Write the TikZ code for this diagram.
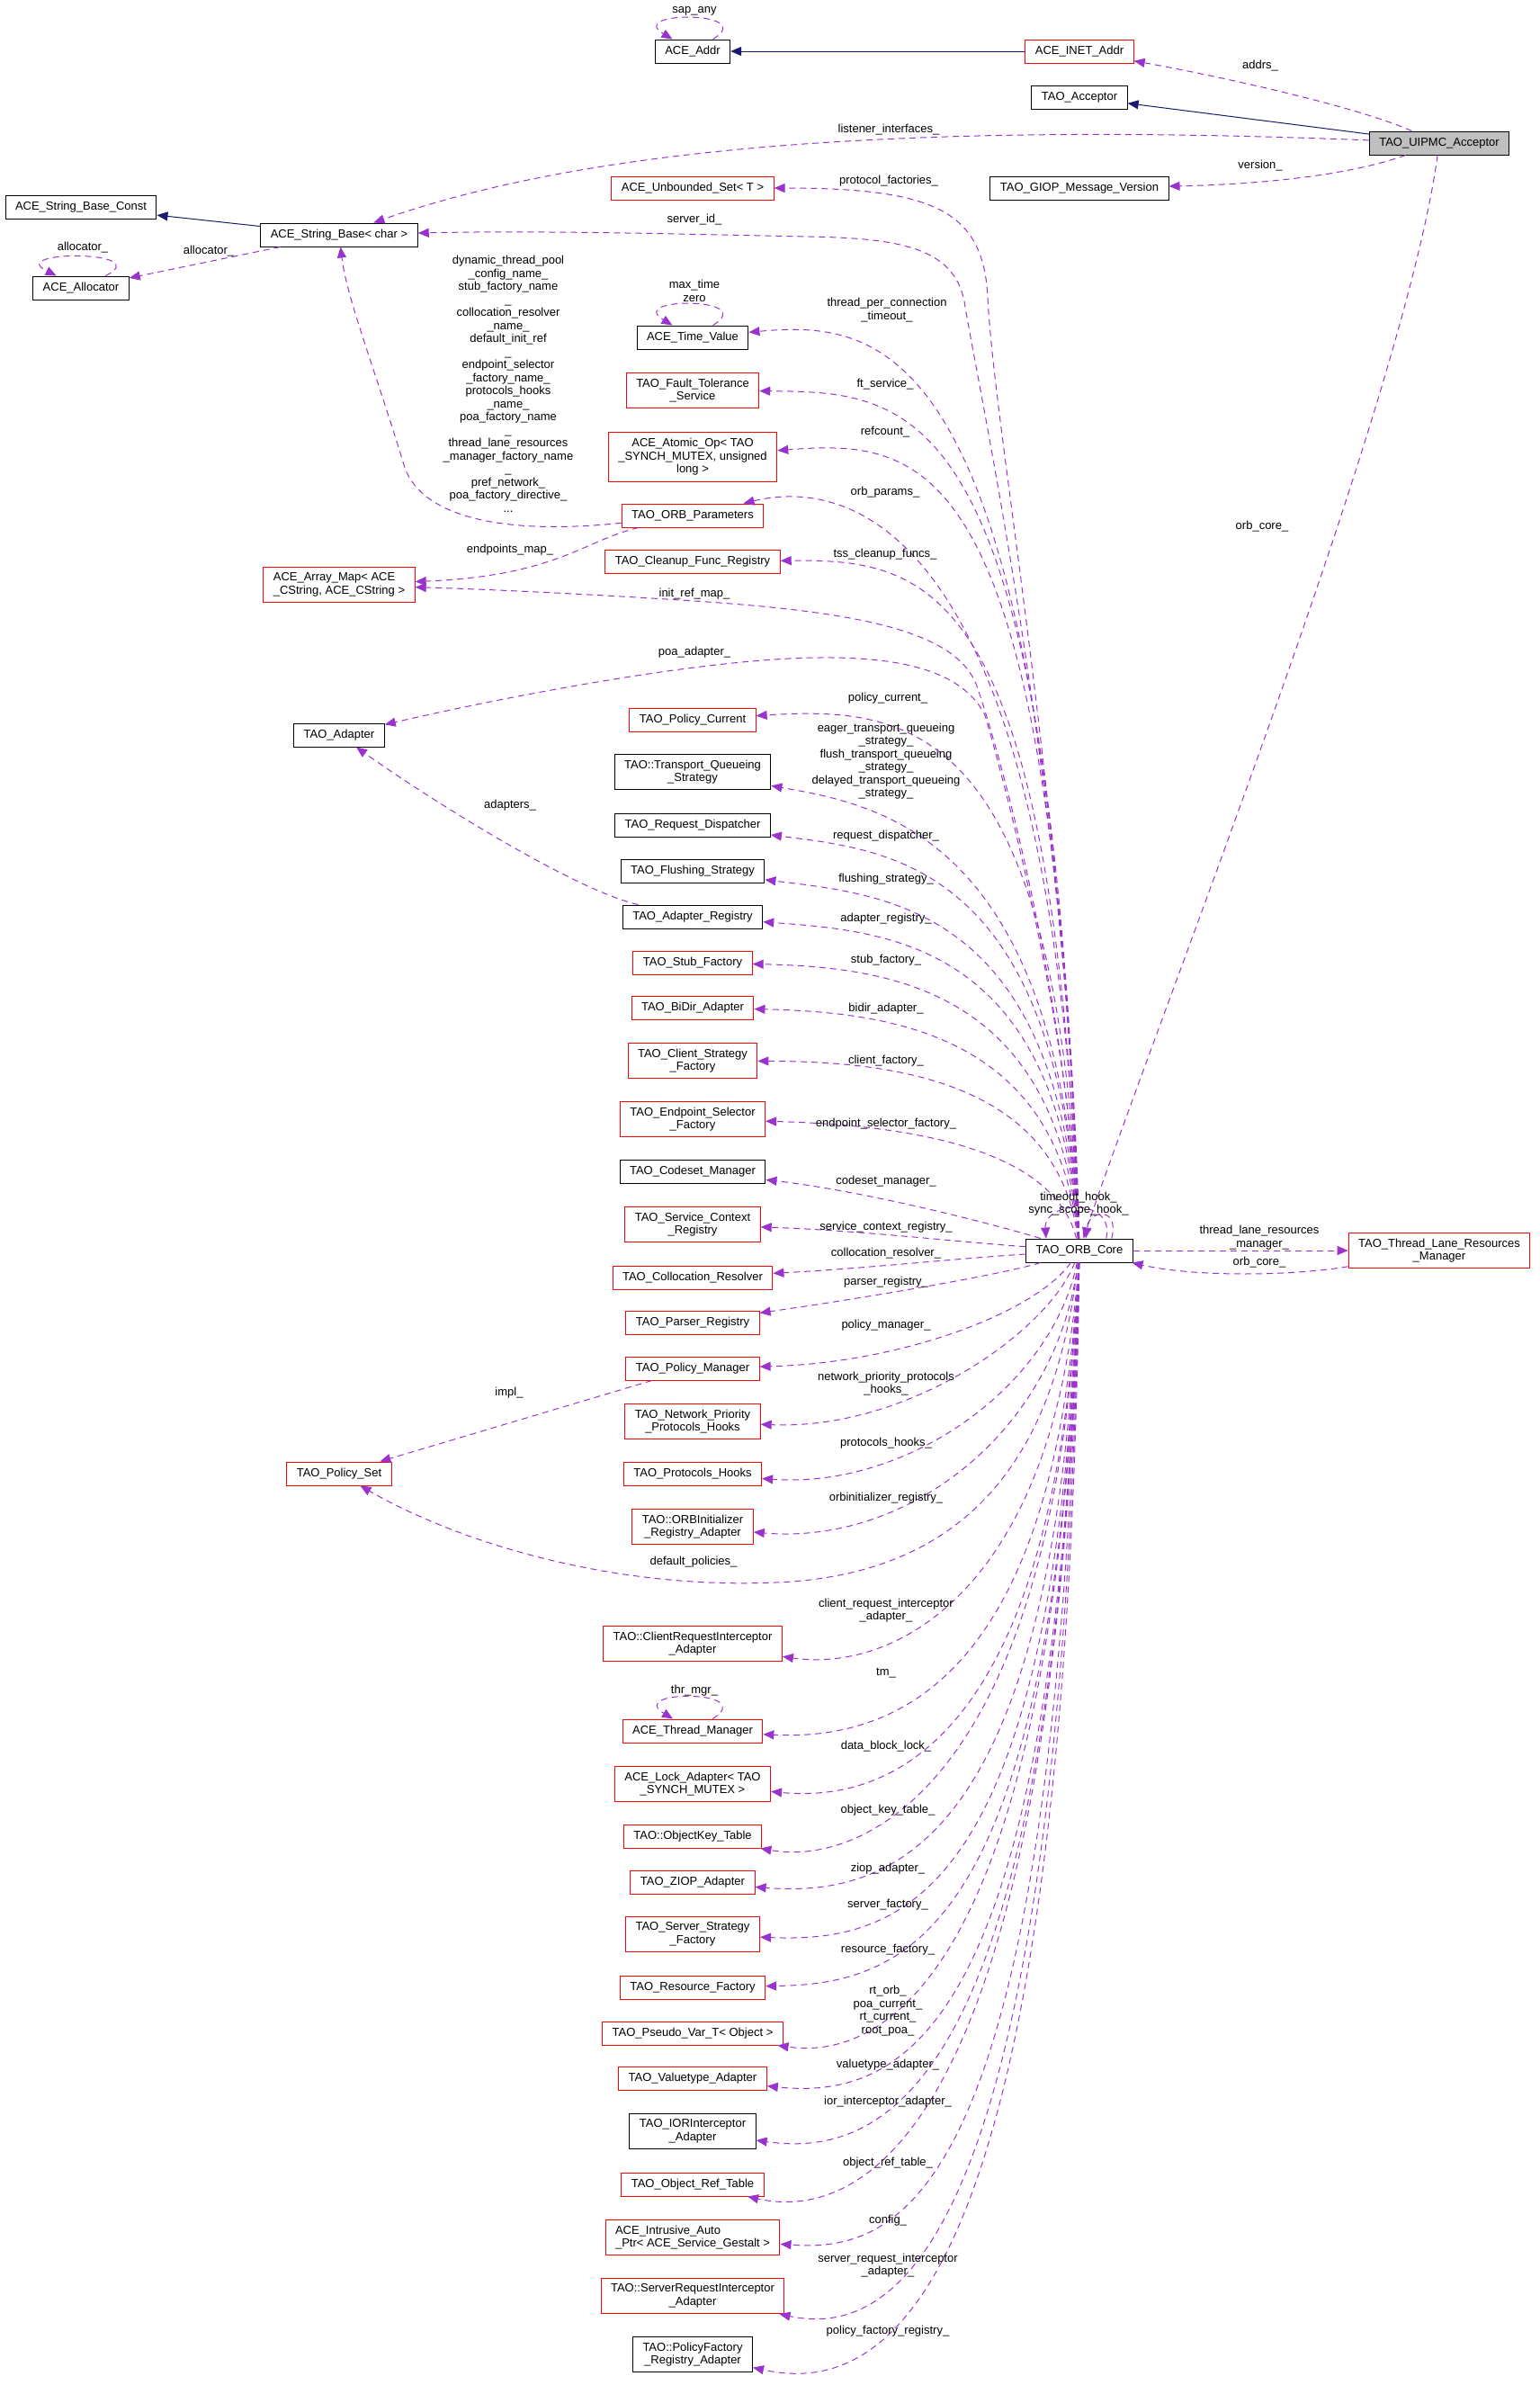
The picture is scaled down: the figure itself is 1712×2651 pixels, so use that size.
\documentclass[tikz,border=0pt]{standalone}
\usepackage{fontspec}
\setmainfont{Liberation Sans}
\usetikzlibrary{arrows.meta}
\definecolor{edgepurple}{HTML}{9A32CD}
\definecolor{inhblue}{HTML}{191970}
\definecolor{selfgray}{HTML}{BFBFBF}
\newcommand{\dgfont}{\fontsize{13}{14.5}\selectfont}

\begin{document}
\begin{tikzpicture}[x=1pt, y=-1pt,
    cls/.style={draw=black, fill=white, line width=1pt, font=\dgfont, align=center,
      inner xsep=11pt, inner ysep=6.5pt, minimum height=26pt},
    undoc/.style={cls, draw=red},
    lbl/.style={font=\dgfont, align=center, inner sep=0pt},
    use/.style={draw=edgepurple, line width=1pt, dash pattern=on 7pt off 5pt,
      -{Triangle[length=12pt,width=10pt]}},
    inh/.style={draw=inhblue, line width=1pt, -{Triangle[length=12pt,width=10pt]}}]
  \useasboundingbox (0,0) rectangle (1712,2651);

  % classes, top part
  \node[cls] (addr) at (770,57) {ACE\_Addr};
  \node[undoc] (inet) at (1200,57) {ACE\_INET\_Addr};
  \node[cls] (acc) at (1200,108) {TAO\_Acceptor};
  \node[cls, fill=selfgray] (uipmc) at (1600,159) {TAO\_UIPMC\_Acceptor};
  \node[cls] (giop) at (1200,209) {TAO\_GIOP\_Message\_Version};
  \node[cls] (asbc) at (90,230) {ACE\_String\_Base\_Const};
  \node[cls] (asb) at (377,261) {ACE\_String\_Base< char >};
  \node[cls] (alloc) at (90,320) {ACE\_Allocator};
  \node[undoc] (amap) at (377,650) [align=left] {ACE\_Array\_Map< ACE\\\_CString, ACE\_CString >};
  \node[cls] (adapter) at (377,817) {TAO\_Adapter};
  \node[undoc] (pset) at (377,1638) {TAO\_Policy\_Set};

  % members of the ORB core
  \node[undoc] (uset) at (770,209) {ACE\_Unbounded\_Set< T >};
  \node[cls] (tv) at (770,375) {ACE\_Time\_Value};
  \node[undoc] (fts) at (770,434) {TAO\_Fault\_Tolerance\\\_Service};
  \node[undoc] (atom) at (770,508) {ACE\_Atomic\_Op< TAO\\\_SYNCH\_MUTEX, unsigned\\long >};
  \node[undoc] (orbp) at (770,573) {TAO\_ORB\_Parameters};
  \node[undoc] (cleanup) at (770,624) {TAO\_Cleanup\_Func\_Registry};
  \node[undoc] (pcur) at (770,800) {TAO\_Policy\_Current};
  \node[cls] (tqs) at (770,858) {TAO::Transport\_Queueing\\\_Strategy};
  \node[cls] (rdisp) at (770,917) {TAO\_Request\_Dispatcher};
  \node[cls] (flush) at (770,968) {TAO\_Flushing\_Strategy};
  \node[cls] (areg) at (770,1019) {TAO\_Adapter\_Registry};
  \node[undoc] (stubf) at (770,1070) {TAO\_Stub\_Factory};
  \node[undoc] (bidir) at (770,1120) {TAO\_BiDir\_Adapter};
  \node[undoc] (csf) at (770,1179) {TAO\_Client\_Strategy\\\_Factory};
  \node[undoc] (esf) at (770,1244) {TAO\_Endpoint\_Selector\\\_Factory};
  \node[cls] (codeset) at (770,1302) {TAO\_Codeset\_Manager};
  \node[undoc] (scr) at (770,1361) {TAO\_Service\_Context\\\_Registry};
  \node[undoc] (coll) at (770,1420) {TAO\_Collocation\_Resolver};
  \node[cls] (core) at (1200,1390) {TAO\_ORB\_Core};
  \node[undoc] (tlrm) at (1600,1390) {TAO\_Thread\_Lane\_Resources\\\_Manager};
  \node[undoc] (parser) at (770,1470) {TAO\_Parser\_Registry};
  \node[undoc] (pman) at (770,1521) {TAO\_Policy\_Manager};
  \node[undoc] (npph) at (770,1580) {TAO\_Network\_Priority\\\_Protocols\_Hooks};
  \node[undoc] (phooks) at (770,1638) {TAO\_Protocols\_Hooks};
  \node[undoc] (orbi) at (770,1697) {TAO::ORBInitializer\\\_Registry\_Adapter};
  \node[undoc] (cria) at (770,1827) {TAO::ClientRequestInterceptor\\\_Adapter};
  \node[undoc] (thrm) at (770,1924) {ACE\_Thread\_Manager};
  \node[undoc] (lock) at (770,1983) {ACE\_Lock\_Adapter< TAO\\\_SYNCH\_MUTEX >};
  \node[undoc] (okt) at (770,2041) {TAO::ObjectKey\_Table};
  \node[undoc] (ziop) at (770,2092) {TAO\_ZIOP\_Adapter};
  \node[undoc] (ssf) at (770,2150) {TAO\_Server\_Strategy\\\_Factory};
  \node[undoc] (resf) at (770,2209) {TAO\_Resource\_Factory};
  \node[undoc] (pvar) at (770,2260) {TAO\_Pseudo\_Var\_T< Object >};
  \node[undoc] (vtype) at (770,2310) {TAO\_Valuetype\_Adapter};
  \node[cls] (iori) at (770,2369) {TAO\_IORInterceptor\\\_Adapter};
  \node[undoc] (ort) at (770,2428) {TAO\_Object\_Ref\_Table};
  \node[undoc] (iap) at (770,2487) [align=left] {ACE\_Intrusive\_Auto\\\_Ptr< ACE\_Service\_Gestalt >};
  \node[undoc] (sria) at (770,2552) {TAO::ServerRequestInterceptor\\\_Adapter};
  \node[cls] (pfra) at (770,2617) {TAO::PolicyFactory\\\_Registry\_Adapter};

  % inheritance
  \draw[inh] (inet) -- (addr);
  \draw[inh] (uipmc) -- (acc);
  \draw[inh] (asb) -- (asbc);

  % usage, top part
  \draw[use] (addr) .. controls (845,12) and (695,12) .. (addr);
  \draw[use] (uipmc) .. controls (1500,115) and (1330,80) .. (inet);
  \draw[use] (uipmc) .. controls (1000,135) and (650,165) .. (asb);
  \draw[use] (uipmc) .. controls (1500,195) and (1400,205) .. (giop);
  \draw[use] (uipmc) .. controls (1560,450) and (1280,1150) .. (core);
  \draw[use] (asb) -- (alloc);
  \draw[use] (alloc) .. controls (175,278) and (5,278) .. (alloc);
  \draw[use] (orbp) .. controls (560,595) and (470,575) .. (450,520)
    .. controls (420,420) and (385,330) .. (asb);
  \draw[use] (orbp) .. controls (650,600) and (620,640) .. (amap);
  \draw[use] (areg) .. controls (640,990) and (480,890) .. (adapter);
  \draw[use] (pman) -- (pset);
  \draw[use] (tv) .. controls (845,330) and (695,330) .. (tv);
  \draw[use] (thrm) .. controls (845,1878) and (695,1878) .. (thrm);

  % usage, from the ORB core upwards
  \draw[use] (core) .. controls (1190,900) and (1085,420) .. (1072,335)
    .. controls (1060,275) and (1000,265) .. (900,263)
    .. controls (750,260) and (600,256) .. (asb);
  \draw[use] (core) .. controls (1185,900) and (1105,480) .. (1098,330)
    .. controls (1093,235) and (1040,209) .. (uset);
  \draw[use] (core) .. controls (1165,380) and (990,355) .. (tv);
  \draw[use] (core) .. controls (1170,440) and (1020,436) .. (fts);
  \draw[use] (core) .. controls (1170,500) and (1030,488) .. (atom);
  \draw[use] (core) .. controls (1170,590) and (950,530) .. (orbp);
  \draw[use] (core) .. controls (1170,640) and (1030,622) .. (cleanup);
  \draw[use] (core) .. controls (1185,1100) and (1110,830) .. (1085,760)
    .. controls (1060,700) and (950,680) .. (772,668)
    .. controls (650,660) and (540,655) .. (amap);
  \draw[use] (core) .. controls (1190,1150) and (1120,880) .. (1095,795)
    .. controls (1070,745) and (1000,730) .. (910,731)
    .. controls (780,732) and (560,775) .. (adapter);
  \draw[use] (core) .. controls (1175,800) and (1010,785) .. (pcur);
  \draw[use] (core) .. controls (1175,930) and (980,895) .. (tqs);
  \draw[use] (core) .. controls (1175,960) and (990,945) .. (rdisp);
  \draw[use] (core) .. controls (1175,1010) and (990,995) .. (flush);
  \draw[use] (core) .. controls (1175,1050) and (990,1035) .. (areg);
  \draw[use] (core) .. controls (1175,1100) and (990,1075) .. (stubf);
  \draw[use] (core) .. controls (1175,1150) and (990,1125) .. (bidir);
  \draw[use] (core) .. controls (1175,1200) and (990,1180) .. (csf);
  \draw[use] (core) .. controls (1170,1270) and (990,1250) .. (esf);
  \draw[use] (core) .. controls (1120,1365) and (970,1325) .. (codeset);
  \draw[use] (core) .. controls (1060,1380) and (960,1368) .. (scr);
  \draw[use] (core) .. controls (1050,1400) and (960,1410) .. (coll);

  % usage, from the ORB core downwards
  \draw[use] (core) .. controls (1120,1415) and (980,1440) .. (parser);
  \draw[use] (core) .. controls (1150,1460) and (1000,1515) .. (pman);
  \draw[use] (core) .. controls (1165,1480) and (1010,1590) .. (npph);
  \draw[use] (core) .. controls (1170,1540) and (1010,1655) .. (phooks);
  \draw[use] (core) .. controls (1175,1590) and (1010,1718) .. (orbi);
  \draw[use] (core) .. controls (1180,1560) and (1120,1740) .. (880,1758)
    .. controls (700,1770) and (520,1720) .. (pset);
  \draw[use] (core) .. controls (1175,1760) and (1000,1860) .. (cria);
  \draw[use] (core) .. controls (1175,1860) and (1000,1935) .. (thrm);
  \draw[use] (core) .. controls (1175,1920) and (1000,2005) .. (lock);
  \draw[use] (core) .. controls (1175,1980) and (960,2075) .. (okt);
  \draw[use] (core) .. controls (1175,2040) and (1000,2110) .. (ziop);
  \draw[use] (core) .. controls (1175,2100) and (1010,2160) .. (ssf);
  \draw[use] (core) .. controls (1175,2150) and (1010,2205) .. (resf);
  \draw[use] (core) .. controls (1175,2200) and (980,2290) .. (pvar);
  \draw[use] (core) .. controls (1175,2250) and (1010,2335) .. (vtype);
  \draw[use] (core) .. controls (1175,2310) and (990,2400) .. (iori);
  \draw[use] (core) .. controls (1175,2370) and (960,2470) .. (ort);
  \draw[use] (core) .. controls (1175,2430) and (1010,2505) .. (iap);
  \draw[use] (core) .. controls (1180,2490) and (1000,2600) .. (sria);
  \draw[use] (core) .. controls (1185,2550) and (990,2665) .. (pfra);

  % ORB core and its thread lanes
  \draw[use] (core) -- (tlrm);
  \draw[use] (tlrm) .. controls (1440,1418) and (1330,1420) .. (core);
  \draw[use] ([xshift=-24pt]core.north east) .. controls (1245,1340) and (1210,1345) .. ([xshift=7pt]core.north);
  \draw[use] ([xshift=-30pt]core.north east) .. controls (1240,1330) and (1160,1335) .. ([xshift=-37pt]core.north);

  % labels
  \node[lbl] (l-sap) at (772,12) {sap\_any};
  \node[lbl] (l-addrs) at (1401,73) {addrs\_};
  \node[lbl] (l-listen) at (988,144) {listener\_interfaces\_};
  \node[lbl] (l-version) at (1401,184) {version\_};
  \node[lbl] (l-protf) at (988,201) {protocol\_factories\_};
  \node[lbl] (l-alloc1) at (92,275) {allocator\_};
  \node[lbl] (l-alloc2) at (232,279) {allocator\_};
  \node[lbl] (l-servid) at (772,244) {server\_id\_};
  \node[lbl] (l-tv) at (772,323.5) {max\_time\\zero};
  \node[lbl] (l-tpc) at (986,344.5) {thread\_per\_connection\\\_timeout\_};
  \node[lbl] (l-names) at (565,427) {dynamic\_thread\_pool\\\_config\_name\_\\stub\_factory\_name\\\_\\collocation\_resolver\\\_name\_\\default\_init\_ref\\\_\\endpoint\_selector\\\_factory\_name\_\\protocols\_hooks\\\_name\_\\poa\_factory\_name\\\_\\thread\_lane\_resources\\\_manager\_factory\_name\\\_\\pref\_network\_\\poa\_factory\_directive\_\\...};
  \node[lbl] (l-ft) at (984,427) {ft\_service\_};
  \node[lbl] (l-ref) at (984,480) {refcount\_};
  \node[lbl] (l-orbp) at (984,547) {orb\_params\_};
  \node[lbl] (l-orbcore1) at (1403,585) {orb\_core\_};
  \node[lbl] (l-epmap) at (567,611) {endpoints\_map\_};
  \node[lbl] (l-tss) at (984,616) {tss\_cleanup\_funcs\_};
  \node[lbl] (l-initref) at (772,660) {init\_ref\_map\_};
  \node[lbl] (l-poa) at (772,725) {poa\_adapter\_};
  \node[lbl] (l-pcur) at (987,776) {policy\_current\_};
  \node[lbl] (l-tqs) at (985,846) {eager\_transport\_queueing\\\_strategy\_\\flush\_transport\_queueing\\\_strategy\_\\delayed\_transport\_queueing\\\_strategy\_};
  \node[lbl] (l-adapters) at (567,895) {adapters\_};
  \node[lbl] (l-rdisp) at (985,929) {request\_dispatcher\_};
  \node[lbl] (l-flush) at (985,977) {flushing\_strategy\_};
  \node[lbl] (l-areg) at (985,1021) {adapter\_registry\_};
  \node[lbl] (l-stubf) at (985,1067) {stub\_factory\_};
  \node[lbl] (l-bidir) at (985,1121) {bidir\_adapter\_};
  \node[lbl] (l-csf) at (985,1179) {client\_factory\_};
  \node[lbl] (l-esf) at (985,1249) {endpoint\_selector\_factory\_};
  \node[lbl] (l-codeset) at (985,1313) {codeset\_manager\_};
  \node[lbl] (l-hooks) at (1199,1338) {timeout\_hook\_\\sync\_scope\_hook\_};
  \node[lbl] (l-scr) at (985,1364) {service\_context\_registry\_};
  \node[lbl] (l-tlrm) at (1400,1375.5) {thread\_lane\_resources\\\_manager\_};
  \node[lbl] (l-coll) at (985,1393) {collocation\_resolver\_};
  \node[lbl] (l-orbcore2) at (1400,1403) {orb\_core\_};
  \node[lbl] (l-parser) at (985,1425) {parser\_registry\_};
  \node[lbl] (l-pman) at (985,1473) {policy\_manager\_};
  \node[lbl] (l-npph) at (985,1538) {network\_priority\_protocols\\\_hooks\_};
  \node[lbl] (l-impl) at (566,1548) {impl\_};
  \node[lbl] (l-phooks) at (985,1604) {protocols\_hooks\_};
  \node[lbl] (l-orbi) at (985,1665) {orbinitializer\_registry\_};
  \node[lbl] (l-defpol) at (771,1736) {default\_policies\_};
  \node[lbl] (l-cria) at (985,1790) {client\_request\_interceptor\\\_adapter\_};
  \node[lbl] (l-tm) at (985,1860) {tm\_};
  \node[lbl] (l-thr) at (772,1879) {thr\_mgr\_};
  \node[lbl] (l-lock) at (985,1941) {data\_block\_lock\_};
  \node[lbl] (l-okt) at (987,2012) {object\_key\_table\_};
  \node[lbl] (l-ziop) at (987,2077) {ziop\_adapter\_};
  \node[lbl] (l-ssf) at (987,2117) {server\_factory\_};
  \node[lbl] (l-resf) at (987,2167) {resource\_factory\_};
  \node[lbl] (l-pvar) at (987,2235) {rt\_orb\_\\poa\_current\_\\rt\_current\_\\root\_poa\_};
  \node[lbl] (l-vtype) at (987,2295) {valuetype\_adapter\_};
  \node[lbl] (l-iori) at (987,2336) {ior\_interceptor\_adapter\_};
  \node[lbl] (l-ort) at (987,2404) {object\_ref\_table\_};
  \node[lbl] (l-iap) at (987,2468) {config\_};
  \node[lbl] (l-sria) at (987,2518) {server\_request\_interceptor\\\_adapter\_};
  \node[lbl] (l-pfra) at (987,2591) {policy\_factory\_registry\_};
\end{tikzpicture}
\end{document}
